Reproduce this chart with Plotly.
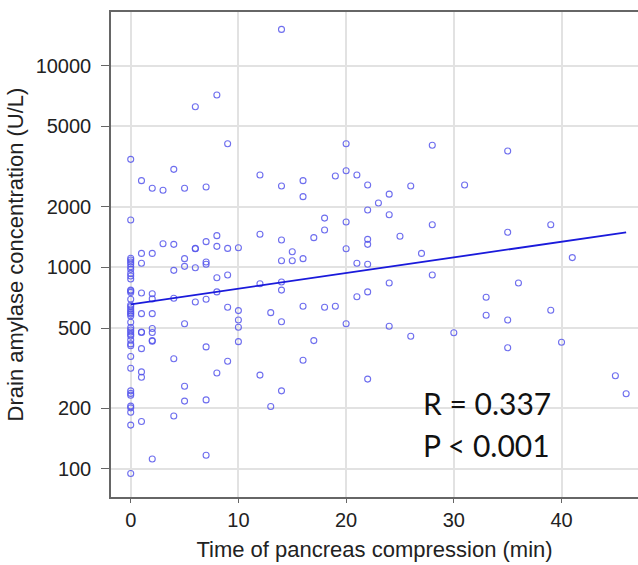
import plotly.graph_objects as go

# Data (time in min, amylase in U/L)
pts = {
    0: [1108, 1087, 1062, 1038, 1007, 977, 933, 905, 875, 771, 763, 751, 694, 650, 638, 621,
        607, 596, 586, 574, 534, 502, 489, 478, 466, 456, 436, 417, 408, 361, 316, 244, 237,
        232, 205, 201, 191, 165, 95, 1716, 3430],
    1: [2690, 1172, 1047, 746, 589, 478, 475, 395, 303, 285, 172],
    2: [2465, 1172, 740, 697, 589, 497, 475, 433, 430, 112],
    3: [2410, 1309],
    4: [3060, 1300, 966, 702, 352, 183],
    5: [2465, 1104, 1011, 525, 257, 217],
    6: [6250, 1241, 1235, 995, 673],
    7: [2500, 1340, 1062, 1035, 694, 403, 220, 117],
    8: [7150, 1435, 1270, 888, 755, 299],
    9: [4100, 1241, 916, 634, 342],
    10: [1250, 610, 548, 504, 428],
    12: [2870, 1459, 829, 292],
    13: [596, 204],
    14: [15130, 2530, 1365, 1078, 845, 771, 537, 244],
    15: [1194, 1078],
    16: [2690, 2240, 1104, 641, 346],
    17: [1403, 433],
    18: [1754, 1530, 634],
    19: [2838, 641],
    20: [4100, 3013, 1677, 1237, 525],
    21: [2870, 1047, 714],
    22: [2560, 1923, 1376, 1300, 1035, 755, 279],
    23: [2083],
    24: [2305, 1823, 836, 510],
    25: [1425],
    26: [2530, 455],
    27: [1172],
    28: [4027, 1626, 916],
    30: [474],
    31: [2560],
    33: [710, 578],
    35: [3776, 1491, 548, 399],
    36: [836],
    39: [1626, 612],
    40: [425],
    41: [1117],
    45: [290],
    46: [236],
}
time_min = [t for t, vs in pts.items() for _ in vs]
amylase = [v for t, vs in pts.items() for v in vs]

fit_x = [0, 46]
fit_y = [655, 1491]

y_ticks = [100, 200, 500, 1000, 2000, 5000, 10000]
x_ticks = [0, 10, 20, 30, 40]

FONT = "Liberation Sans"

fig = go.Figure()
fig.add_trace(go.Scatter(
    x=time_min, y=amylase, mode="markers",
    marker=dict(symbol="circle-open", size=6, color="rgba(85,85,235,0.85)",
                line=dict(width=1.1, color="rgba(85,85,235,0.85)")),
    showlegend=False, hoverinfo="x+y"))
fig.add_trace(go.Scatter(
    x=fit_x, y=fit_y, mode="lines",
    line=dict(color="#1a1adb", width=1.8), showlegend=False))

fig.add_annotation(x=0.588, y=0.194, xref="paper", yref="paper", xanchor="left",
                   yanchor="middle", showarrow=False, text="R = 0.337",
                   font=dict(family="Lato", size=30, color="#111"))
fig.add_annotation(x=0.588, y=0.108, xref="paper", yref="paper", xanchor="left",
                   yanchor="middle", showarrow=False, text="P < 0.001",
                   font=dict(family="Lato", size=30, color="#111"))

fig.update_layout(
    width=638, height=565,
    margin=dict(l=111, r=0, t=12, b=68),
    paper_bgcolor="white", plot_bgcolor="white",
    font=dict(family=FONT, color="#222"),
    xaxis=dict(
        range=[-1.83, 47.1], tickvals=x_ticks, ticktext=[str(v) for v in x_ticks],
        showgrid=True, gridcolor="#e2e2e2", gridwidth=1.5, zeroline=False,
        showline=True, linecolor="#666", linewidth=1.5, mirror=True,
        ticks="outside", ticklen=4, tickcolor="#666", tickwidth=1.2,
        tickfont=dict(size=20, family=FONT, color="#222"),
        title=dict(text="Time of pancreas compression (min)",
                   font=dict(size=22, family=FONT, color="#222"), standoff=12),
    ),
    yaxis=dict(
        type="log", range=[1.861, 4.266], tickvals=y_ticks,
        ticktext=[str(v) for v in y_ticks],
        showgrid=True, gridcolor="#e2e2e2", gridwidth=1.5, zeroline=False,
        showline=True, linecolor="#666", linewidth=1.5,
        ticks="outside", ticklen=8, tickcolor="#666", tickwidth=1.2,
        ticklabelstandoff=6,
        tickfont=dict(size=20, family=FONT, color="#222"),
        title=dict(text="Drain amylase concentration (U/L)",
                   font=dict(size=22, family=FONT, color="#222"), standoff=6),
    ),
)

fig.write_html("out.html", config={"displayModeBar": False},
               post_script="document.body.style.margin='0';document.body.style.overflow='hidden';")
